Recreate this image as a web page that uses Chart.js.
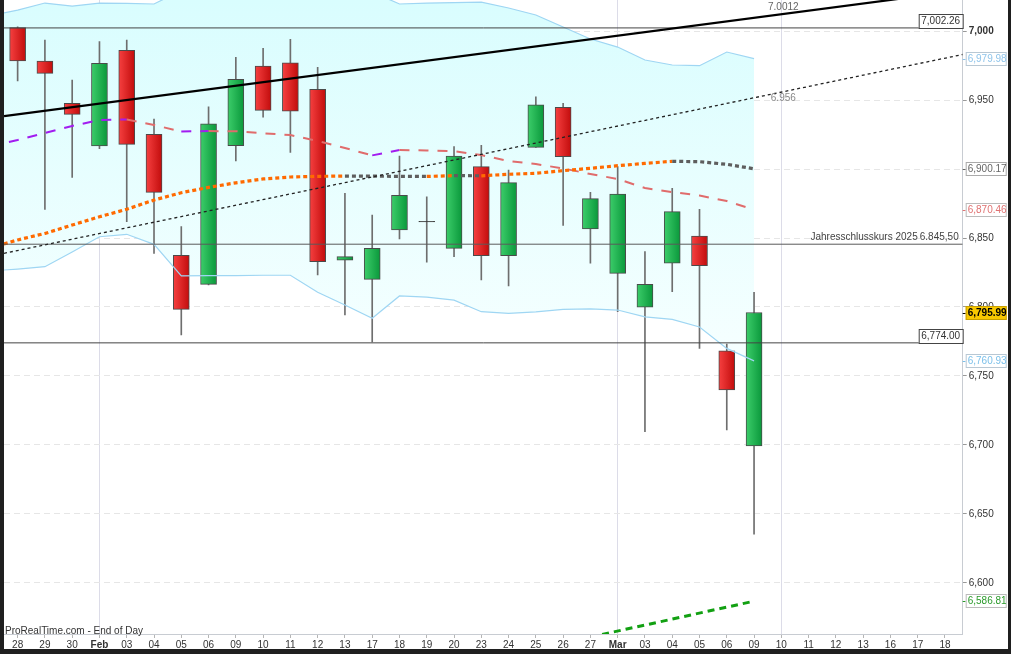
<!DOCTYPE html>
<html>
<head>
<meta charset="utf-8">
<title>S&amp;P 500 daily</title>
<script src="https://cdn.jsdelivr.net/npm/chart.js@4.4.1/dist/chart.umd.min.js"></script>
<style>
  html, body { margin: 0; padding: 0; background: #1f1f1f; overflow: hidden; }
  #wrap { position: absolute; left: 4px; top: 0; width: 1004px; height: 649px; background: #fff; }
</style>
</head>
<body>
<div id="wrap"><canvas id="chart"></canvas></div>
<script>
// day labels on the time axis (Jan 28 .. Mar 18)
const dayLabels = ['28', '29', '30', 'Feb', '03', '04', '05', '06', '09', '10', '11', '12', '13', '17', '18', '19', '20',
  '23', '24', '25', '26', '27', 'Mar', '03', '04', '05', '06', '09', '10', '11', '12', '13', '16', '17', '18'];
const monthStarts = [3, 22];
const markedDays = [3, 22, 28];

// daily candles
const opens  = [7002.5, 6978.3, 6947.6, 6916.7, 6986.0, 6925.1, 6837.5, 6816.4, 6916.9, 6974.6, 6977.0, 6957.7, 6834.0, 6820.0,
  6855.8, 6861.7, 6842.5, 6901.7, 6837.2, 6915.7, 6944.7, 6856.5, 6824.4, 6799.8, 6831.7, 6851.4, 6768.3, 6699.3];
const highs  = [7003.0, 6993.5, 6964.5, 6992.3, 6993.5, 6936.2, 6858.2, 6945.1, 6980.9, 6987.5, 6994.0, 6973.7, 6882.4, 6866.7,
  6909.4, 6879.9, 6916.2, 6917.2, 6899.3, 6952.4, 6947.6, 6883.1, 6901.7, 6840.1, 6886.0, 6870.8, 6773.2, 6810.6];
const lows   = [6963.8, 6870.8, 6894.0, 6914.7, 6861.8, 6838.9, 6779.7, 6816.0, 6905.8, 6937.5, 6912.0, 6823.2, 6794.2, 6774.6,
  6849.3, 6832.4, 6836.5, 6819.6, 6815.2, 6915.7, 6859.2, 6831.7, 6796.6, 6709.6, 6811.1, 6770.0, 6710.9, 6635.3];
const closes = [6978.3, 6969.3, 6939.6, 6976.6, 6917.9, 6883.1, 6798.3, 6932.8, 6965.0, 6942.5, 6942.0, 6832.8, 6836.5, 6842.5,
  6880.9, 6862.0, 6909.4, 6837.2, 6890.1, 6946.6, 6908.9, 6878.5, 6881.9, 6816.4, 6869.1, 6829.9, 6739.9, 6795.99];

// indicator series start one session earlier (Jan 27, just off the left edge)
const indicatorStart = -1;

// bollinger bands
const bandUpper = [7011.0, 7015.2, 7020.3, 7018.1, 7020.3, 7020.0, 7019.6, 7029.4, 7034.0, 7038.0, 7041.0, 7043.0, 7041.0, 7036.0, 7028.3,
  7019.6, 7020.3, 7020.6, 7021.0, 7016.7, 7011.6, 7002.9, 6994.2, 6988.4, 6979.0, 6975.4, 6974.9, 6984.8, 6979.98];
const bandLower = [6826.1, 6827.5, 6829.2, 6839.9, 6850.9, 6852.7, 6845.4, 6822.5, 6822.7, 6822.8, 6823.0, 6823.0, 6810.7, 6801.4, 6791.8,
  6808.0, 6807.2, 6805.0, 6796.6, 6795.4, 6796.4, 6798.3, 6798.6, 6797.8, 6792.8, 6791.0, 6785.5, 6770.0, 6760.93];

// moving averages
const maShort = [6916.7, 6921.0, 6926.1, 6931.2, 6935.5, 6935.9, 6931.9, 6927.2, 6927.5, 6927.4, 6925.9, 6924.6, 6920.3, 6915.2, 6909.9,
  6913.8, 6913.4, 6913.0, 6910.1, 6905.8, 6903.6, 6900.4, 6896.4, 6892.8, 6886.2, 6883.3, 6880.8, 6876.8, 6870.46];
const maLong = [6842.8, 6848.6, 6853.3, 6859.4, 6865.4, 6870.8, 6877.5, 6882.8, 6886.7, 6890.0, 6892.8, 6894.2, 6894.7, 6894.9, 6894.8,
  6894.7, 6894.6, 6895.2, 6895.1, 6896.2, 6896.9, 6898.8, 6900.5, 6902.4, 6904.1, 6905.6, 6905.3, 6903.4, 6900.17];

// trend lines [x, value]
const trendUpper = [[-0.5, 6938.4], [34.65, 7029.4]];
const trendMid = [[-0.5, 6838.9], [34.65, 6983.0]];
const trendSupport = [[21, 6560.8], [27, 6586.81]];

// horizontal levels
const levels = [7002.26, 6845.50, 6774.00];
const yTicks = [6600, 6650, 6700, 6750, 6800, 6850, 6900, 6950, 7000];

const FONT = '"Liberation Sans", Arial, sans-serif';
Chart.defaults.font.family = FONT;
Chart.defaults.font.size = 10;

const idx = opens.map((_, i) => i);
const pts = arr => arr.map((v, i) => ({ x: i + indicatorStart, y: v }));
const seg = arr => arr.map(p => ({ x: p[0], y: p[1] }));
const fmt = v => v.toLocaleString('en-US', { minimumFractionDigits: 2, maximumFractionDigits: 2 });

function bodyColor(c) {
  const i = c.dataIndex;
  const diff = closes[i] - opens[i];
  if (Math.abs(diff) < 0.6) return '#333';
  const up = diff > 0;
  const xs = c.chart.scales && c.chart.scales.x;
  if (!xs || xs.width == null) return up ? '#1fb24c' : '#e32222';
  const px = xs.getPixelForValue(i);
  const g = c.chart.ctx.createLinearGradient(px - 8, 0, px + 8, 0);
  if (up) { g.addColorStop(0, '#3ccd6a'); g.addColorStop(1, '#0a983b'); }
  else { g.addColorStop(0, '#f64040'); g.addColorStop(1, '#c20c0c'); }
  return g;
}

function bandFill(c) {
  const a = c.chart.chartArea;
  if (!a) return '#e6fdfd';
  const g = c.chart.ctx.createLinearGradient(0, a.top, 0, a.bottom);
  g.addColorStop(0, '#d9fdfe');
  g.addColorStop(0.55, '#f5ffff');
  g.addColorStop(1, '#ffffff');
  return g;
}

const overlay = {
  id: 'overlay',
  afterDraw(chart) {
    const { ctx, chartArea: a, scales: { x, y } } = chart;
    ctx.save();
    ctx.textBaseline = 'middle';
    ctx.lineWidth = 1;

    // boxed level values on the left of the price axis
    ctx.font = '10px ' + FONT;
    [levels[0], levels[2]].forEach(v => {
      const py = Math.round(y.getPixelForValue(v));
      ctx.fillStyle = '#fff';
      ctx.fillRect(a.right - 44, py - 14, 44, 14);
      ctx.strokeStyle = '#444';
      ctx.strokeRect(a.right - 44 + 0.5, py - 14 + 0.5, 44, 14);
      ctx.fillStyle = '#333';
      ctx.textAlign = 'center';
      ctx.fillText(fmt(v), a.right - 22, py - 6.5);
    });

    // year-end close label
    const pj = y.getPixelForValue(levels[1]);
    ctx.fillStyle = '#444';
    ctx.textAlign = 'right';
    ctx.fillText('Jahresschlusskurs 2025', a.right - 45, pj - 7);
    ctx.fillText('6.845,50', a.right - 4, pj - 7);

    // trend line labels at the marked day
    const px = x.getPixelForValue(28);
    ctx.textAlign = 'center';
    ctx.fillStyle = '#666';
    ctx.fillText('7.0012', px + 2, 7);
    ctx.fillStyle = '#888';
    ctx.fillText('6.956', px + 2, y.getPixelForValue(6951));

    // source text
    ctx.textAlign = 'left';
    ctx.fillStyle = '#333';
    ctx.fillText('ProRealTime.com - End of Day', 1, a.bottom - 3);

    // last-value markers on the price axis
    const markers = [
      { v: bandUpper[bandUpper.length - 1], fg: '#8fc4ea', bd: '#b8c8d4', bg: '#fff' },
      { v: maLong[maLong.length - 1], fg: '#666', bd: '#aaa', bg: '#fff' },
      { v: maShort[maShort.length - 1], fg: '#e07272', bd: '#bbb', bg: '#fff' },
      { v: closes[closes.length - 1], fg: '#000', bd: '#c9a000', bg: '#f8c800', bold: true },
      { v: bandLower[bandLower.length - 1], fg: '#7cc0ea', bd: '#b8c8d4', bg: '#fff' },
      { v: trendSupport[trendSupport.length - 1][1], fg: '#2a9a2a', bd: '#bbb', bg: '#fff' }
    ];
    markers.forEach(m => {
      const py = Math.round(y.getPixelForValue(m.v));
      const bx = a.right + 3;
      ctx.strokeStyle = m.fg;
      ctx.beginPath(); ctx.moveTo(a.right, py + 0.5); ctx.lineTo(bx, py + 0.5); ctx.stroke();
      ctx.fillStyle = m.bg;
      ctx.fillRect(bx, py - 7, 41, 14);
      ctx.strokeStyle = m.bd;
      ctx.strokeRect(bx + 0.5, py - 6.5, 40, 13);
      ctx.fillStyle = m.fg;
      ctx.font = (m.bold ? 'bold ' : '') + '10px ' + FONT;
      ctx.textAlign = 'left';
      ctx.fillText(fmt(m.v), bx + 2, py + 0.5);
    });
    ctx.restore();
  }
};

new Chart(document.getElementById('chart'), {
  type: 'bar',
  data: {
    datasets: [
      {
        type: 'line', data: pts(bandUpper), order: 100,
        borderColor: '#9fd6f3', borderWidth: 1.2, pointRadius: 0,
        fill: { target: '+1' }, backgroundColor: bandFill
      },
      {
        type: 'line', data: pts(bandLower), order: 50,
        borderColor: '#9fd6f3', borderWidth: 1.2, pointRadius: 0, fill: false
      },
      {
        data: idx.map(i => ({ x: i, y: [lows[i], highs[i]] })), order: 90, grouped: false,
        barThickness: 1, backgroundColor: '#6e6e6e', borderWidth: 0
      },
      {
        data: idx.map(i => ({ x: i, y: [opens[i], closes[i]] })), order: 80, grouped: false,
        barThickness: 16, backgroundColor: bodyColor, borderColor: '#4a4a4a', borderWidth: 1, borderSkipped: false
      },
      {
        type: 'line', data: pts(maLong), order: 40,
        borderWidth: 3.2, borderDash: [4, 3], pointRadius: 0, fill: false, borderColor: '#ff6a00',
        segment: { borderColor: c => c.p1.parsed.y > c.p0.parsed.y ? '#ff6a00' : '#5e5e5e' }
      },
      {
        type: 'line', data: pts(maShort), order: 40,
        borderWidth: 2, borderDash: [10, 9], pointRadius: 0, fill: false, borderColor: '#e06c6c',
        segment: { borderColor: c => c.p1.parsed.y > c.p0.parsed.y ? '#a21cf0' : '#e06c6c' }
      },
      ...levels.map((v, k) => ({
        type: 'line', data: [{ x: -0.5, y: v }, { x: 34.65, y: v }], order: 30,
        borderColor: k === 1 ? '#5a5a5a' : '#444', borderWidth: 1, pointRadius: 0, fill: false
      })),
      {
        type: 'line', data: seg(trendMid), order: 20,
        borderColor: '#222', borderWidth: 1.3, borderDash: [3, 3], pointRadius: 0, fill: false
      },
      {
        type: 'line', data: seg(trendUpper), order: 20,
        borderColor: '#000', borderWidth: 2.2, pointRadius: 0, fill: false
      },
      {
        type: 'line', data: seg(trendSupport), order: 20,
        borderColor: '#12a012', borderWidth: 3, borderDash: [7, 5], pointRadius: 0, fill: false
      }
    ]
  },
  options: {
    responsive: true,
    maintainAspectRatio: false,
    animation: false,
    events: [],
    layout: { padding: 0 },
    plugins: { legend: { display: false }, tooltip: { enabled: false } },
    scales: {
      x: {
        type: 'linear', min: -0.5, max: 34.65, offset: false,
        afterBuildTicks: s => { s.ticks = dayLabels.map((_, i) => ({ value: i })); },
        afterFit: s => { s.height = 15; s.paddingLeft = 0; s.paddingRight = 0; },
        ticks: {
          autoSkip: false, maxRotation: 0, padding: 1, color: '#333',
          font: c => ({ family: FONT, size: 10, weight: c.tick && monthStarts.includes(c.tick.value) ? 'bold' : 'normal' }),
          callback: v => dayLabels[v]
        },
        grid: {
          offset: false,
          color: c => c.tick && markedDays.includes(c.tick.value) ? '#dcdce8' : 'rgba(0,0,0,0)',
          tickColor: '#b5b5b5', tickLength: 4
        },
        border: { color: '#c8ccd2', dash: [] }
      },
      y: {
        type: 'linear', position: 'right', min: 6563, max: 7022.5,
        afterBuildTicks: s => { s.ticks = yTicks.map(v => ({ value: v })); },
        afterFit: s => { s.width = 45.3; s.paddingTop = 0; s.paddingBottom = 0; },
        ticks: {
          padding: 2, color: '#333',
          font: c => ({ family: FONT, size: 10, weight: c.tick && c.tick.value === 7000 ? 'bold' : 'normal' }),
          callback: v => v.toLocaleString('en-US')
        },
        grid: { color: '#e6e6e6', tickColor: '#999', tickLength: 4 },
        border: { color: '#c8ccd2', dash: [6, 4] }
      }
    }
  },
  plugins: [overlay]
});
</script>
</body>
</html>
